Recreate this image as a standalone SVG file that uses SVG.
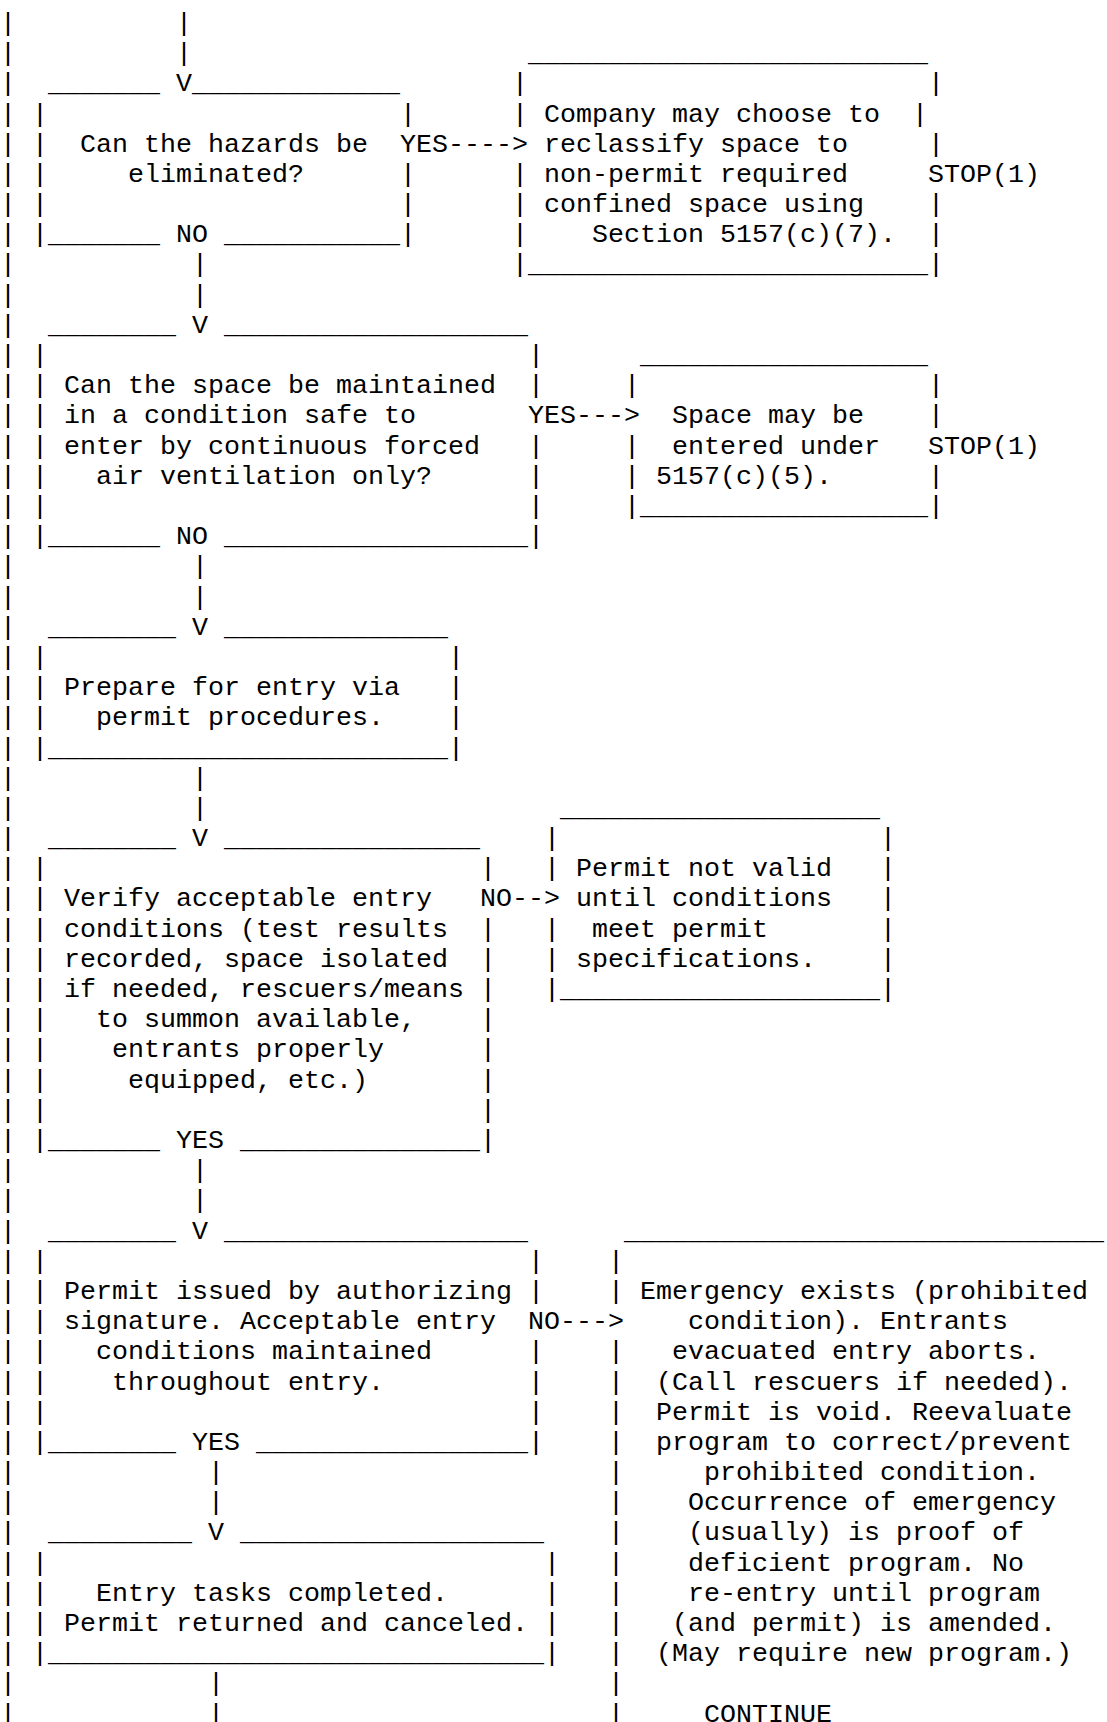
<svg xmlns="http://www.w3.org/2000/svg" width="1107" height="1722" viewBox="0 0 1107 1722">
<style>
.t{font-family:"Liberation Mono","Courier New",monospace;font-size:26.667px;fill:#000;white-space:pre}
</style>
<rect width="1107" height="1722" fill="#fff"/>
<g id="connectors" class="t">
<text class="t"><tspan x="0" y="30.9">|</tspan><tspan x="0" y="61.1">|</tspan><tspan x="0" y="91.3">|</tspan><tspan x="0" y="121.5">|</tspan><tspan x="0" y="151.7">|</tspan><tspan x="0" y="181.9">|</tspan><tspan x="0" y="212">|</tspan><tspan x="0" y="242.2">|</tspan><tspan x="0" y="272.4">|</tspan><tspan x="0" y="302.6">|</tspan><tspan x="0" y="332.8">|</tspan><tspan x="0" y="363">|</tspan><tspan x="0" y="393.2">|</tspan><tspan x="0" y="423.4">|</tspan><tspan x="0" y="453.6">|</tspan><tspan x="0" y="483.8">|</tspan><tspan x="0" y="513.9">|</tspan><tspan x="0" y="544.1">|</tspan><tspan x="0" y="574.3">|</tspan><tspan x="0" y="604.5">|</tspan><tspan x="0" y="634.7">|</tspan><tspan x="0" y="664.9">|</tspan><tspan x="0" y="695.1">|</tspan><tspan x="0" y="725.3">|</tspan><tspan x="0" y="755.5">|</tspan><tspan x="0" y="785.7">|</tspan><tspan x="0" y="815.8">|</tspan><tspan x="0" y="846">|</tspan><tspan x="0" y="876.2">|</tspan><tspan x="0" y="906.4">|</tspan><tspan x="0" y="936.6">|</tspan><tspan x="0" y="966.8">|</tspan><tspan x="0" y="997">|</tspan><tspan x="0" y="1027.2">|</tspan><tspan x="0" y="1057.4">|</tspan><tspan x="0" y="1087.6">|</tspan><tspan x="0" y="1117.7">|</tspan><tspan x="0" y="1147.9">|</tspan><tspan x="0" y="1178.1">|</tspan><tspan x="0" y="1208.3">|</tspan><tspan x="0" y="1238.5">|</tspan><tspan x="0" y="1268.7">|</tspan><tspan x="0" y="1298.9">|</tspan><tspan x="0" y="1329.1">|</tspan><tspan x="0" y="1359.3">|</tspan><tspan x="0" y="1389.5">|</tspan><tspan x="0" y="1419.6">|</tspan><tspan x="0" y="1449.8">|</tspan><tspan x="0" y="1480">|</tspan><tspan x="0" y="1510.2">|</tspan><tspan x="0" y="1540.4">|</tspan><tspan x="0" y="1570.6">|</tspan><tspan x="0" y="1600.8">|</tspan><tspan x="0" y="1631">|</tspan><tspan x="0" y="1661.2">|</tspan><tspan x="0" y="1691.4">|</tspan><tspan x="0" y="1721.5">|</tspan></text>
<text class="t"><tspan x="176" y="30.9">|</tspan><tspan x="176" y="61.1">|</tspan><tspan x="176" y="91.3">V</tspan></text>
<text class="t"><tspan x="176" y="242.2">NO</tspan><tspan x="192" y="272.4">|</tspan><tspan x="192" y="302.6">|</tspan><tspan x="192" y="332.8">V</tspan></text>
<text class="t" x="400" y="151.7">YES----&gt;</text>
<text class="t"><tspan x="176" y="544.1">NO</tspan><tspan x="192" y="574.3">|</tspan><tspan x="192" y="604.5">|</tspan><tspan x="192" y="634.7">V</tspan></text>
<text class="t" x="528" y="423.4">YES---&gt;</text>
<text class="t"><tspan x="192" y="785.7">|</tspan><tspan x="192" y="815.8">|</tspan><tspan x="192" y="846">V</tspan></text>
<text class="t" x="480" y="906.4">NO--&gt;</text>
<text class="t"><tspan x="176" y="1147.9">YES</tspan><tspan x="192" y="1178.1">|</tspan><tspan x="192" y="1208.3">|</tspan><tspan x="192" y="1238.5">V</tspan></text>
<text class="t" x="528" y="1329.1">NO---&gt;</text>
<text class="t"><tspan x="192" y="1449.8">YES</tspan><tspan x="208" y="1480">|</tspan><tspan x="208" y="1510.2">|</tspan><tspan x="208" y="1540.4">V</tspan></text>
<text class="t"><tspan x="208" y="1691.4">|</tspan><tspan x="208" y="1721.5">|</tspan></text>
</g>
<g id="n-hazards">
<text class="t" x="48" y="91.3">_______</text>
<text class="t" x="192" y="91.3">_____________</text>
<text class="t"><tspan x="32" y="121.5">|</tspan><tspan x="32" y="151.7">|</tspan><tspan x="32" y="181.9">|</tspan><tspan x="32" y="212">|</tspan><tspan x="32" y="242.2">|</tspan></text>
<text class="t"><tspan x="400" y="121.5">|</tspan><tspan x="400" y="181.9">|</tspan><tspan x="400" y="212">|</tspan><tspan x="400" y="242.2">|</tspan></text>
<text class="t" x="80" y="151.7">Can the hazards be</text>
<text class="t" x="128" y="181.9">eliminated?</text>
<text class="t" x="48" y="242.2">_______</text>
<text class="t" x="224" y="242.2">___________</text>
</g>
<g id="n-reclassify">
<text class="t" x="528" y="61.1">_________________________</text>
<text class="t"><tspan x="512" y="91.3">|</tspan><tspan x="512" y="121.5">|</tspan><tspan x="512" y="181.9">|</tspan><tspan x="512" y="212">|</tspan><tspan x="512" y="242.2">|</tspan><tspan x="512" y="272.4">|</tspan></text>
<text class="t"><tspan x="928" y="91.3">|</tspan><tspan x="912" y="121.5">|</tspan><tspan x="928" y="151.7">|</tspan><tspan x="928" y="212">|</tspan><tspan x="928" y="242.2">|</tspan><tspan x="928" y="272.4">|</tspan></text>
<text class="t" x="544" y="121.5">Company may choose to</text>
<text class="t" x="544" y="151.7">reclassify space to</text>
<text class="t" x="544" y="181.9">non-permit required</text>
<text class="t" x="544" y="212">confined space using</text>
<text class="t" x="592" y="242.2">Section 5157(c)(7).</text>
<text class="t" x="928" y="181.9">STOP(1)</text>
<text class="t" x="528" y="272.4">_________________________</text>
</g>
<g id="n-ventilation">
<text class="t" x="48" y="332.8">________</text>
<text class="t" x="224" y="332.8">___________________</text>
<text class="t"><tspan x="32" y="363">|</tspan><tspan x="32" y="393.2">|</tspan><tspan x="32" y="423.4">|</tspan><tspan x="32" y="453.6">|</tspan><tspan x="32" y="483.8">|</tspan><tspan x="32" y="513.9">|</tspan><tspan x="32" y="544.1">|</tspan></text>
<text class="t"><tspan x="528" y="363">|</tspan><tspan x="528" y="393.2">|</tspan><tspan x="528" y="453.6">|</tspan><tspan x="528" y="483.8">|</tspan><tspan x="528" y="513.9">|</tspan><tspan x="528" y="544.1">|</tspan></text>
<text class="t" x="64" y="393.2">Can the space be maintained</text>
<text class="t" x="64" y="423.4">in a condition safe to</text>
<text class="t" x="64" y="453.6">enter by continuous forced</text>
<text class="t" x="96" y="483.8">air ventilation only?</text>
<text class="t" x="48" y="544.1">_______</text>
<text class="t" x="224" y="544.1">___________________</text>
</g>
<g id="n-entered">
<text class="t" x="640" y="363">__________________</text>
<text class="t"><tspan x="624" y="393.2">|</tspan><tspan x="624" y="453.6">|</tspan><tspan x="624" y="483.8">|</tspan><tspan x="624" y="513.9">|</tspan></text>
<text class="t"><tspan x="928" y="393.2">|</tspan><tspan x="928" y="423.4">|</tspan><tspan x="928" y="483.8">|</tspan><tspan x="928" y="513.9">|</tspan></text>
<text class="t" x="672" y="423.4">Space may be</text>
<text class="t" x="672" y="453.6">entered under</text>
<text class="t" x="656" y="483.8">5157(c)(5).</text>
<text class="t" x="928" y="453.6">STOP(1)</text>
<text class="t" x="640" y="513.9">__________________</text>
</g>
<g id="n-prepare">
<text class="t" x="48" y="634.7">________</text>
<text class="t" x="224" y="634.7">______________</text>
<text class="t"><tspan x="32" y="664.9">|</tspan><tspan x="32" y="695.1">|</tspan><tspan x="32" y="725.3">|</tspan><tspan x="32" y="755.5">|</tspan></text>
<text class="t"><tspan x="448" y="664.9">|</tspan><tspan x="448" y="695.1">|</tspan><tspan x="448" y="725.3">|</tspan><tspan x="448" y="755.5">|</tspan></text>
<text class="t" x="64" y="695.1">Prepare for entry via</text>
<text class="t" x="96" y="725.3">permit procedures.</text>
<text class="t" x="48" y="755.5">_________________________</text>
</g>
<g id="n-verify">
<text class="t" x="48" y="846">________</text>
<text class="t" x="224" y="846">________________</text>
<text class="t"><tspan x="32" y="876.2">|</tspan><tspan x="32" y="906.4">|</tspan><tspan x="32" y="936.6">|</tspan><tspan x="32" y="966.8">|</tspan><tspan x="32" y="997">|</tspan><tspan x="32" y="1027.2">|</tspan><tspan x="32" y="1057.4">|</tspan><tspan x="32" y="1087.6">|</tspan><tspan x="32" y="1117.7">|</tspan><tspan x="32" y="1147.9">|</tspan></text>
<text class="t"><tspan x="480" y="876.2">|</tspan><tspan x="480" y="936.6">|</tspan><tspan x="480" y="966.8">|</tspan><tspan x="480" y="997">|</tspan><tspan x="480" y="1027.2">|</tspan><tspan x="480" y="1057.4">|</tspan><tspan x="480" y="1087.6">|</tspan><tspan x="480" y="1117.7">|</tspan><tspan x="480" y="1147.9">|</tspan></text>
<text class="t" x="64" y="906.4">Verify acceptable entry</text>
<text class="t" x="64" y="936.6">conditions (test results</text>
<text class="t" x="64" y="966.8">recorded, space isolated</text>
<text class="t" x="64" y="997">if needed, rescuers/means</text>
<text class="t" x="96" y="1027.2">to summon available,</text>
<text class="t" x="112" y="1057.4">entrants properly</text>
<text class="t" x="128" y="1087.6">equipped, etc.)</text>
<text class="t" x="48" y="1147.9">_______</text>
<text class="t" x="240" y="1147.9">_______________</text>
</g>
<g id="n-not-valid">
<text class="t" x="560" y="815.8">____________________</text>
<text class="t"><tspan x="544" y="846">|</tspan><tspan x="544" y="876.2">|</tspan><tspan x="544" y="936.6">|</tspan><tspan x="544" y="966.8">|</tspan><tspan x="544" y="997">|</tspan></text>
<text class="t"><tspan x="880" y="846">|</tspan><tspan x="880" y="876.2">|</tspan><tspan x="880" y="906.4">|</tspan><tspan x="880" y="936.6">|</tspan><tspan x="880" y="966.8">|</tspan><tspan x="880" y="997">|</tspan></text>
<text class="t" x="576" y="876.2">Permit not valid</text>
<text class="t" x="576" y="906.4">until conditions</text>
<text class="t" x="592" y="936.6">meet permit</text>
<text class="t" x="576" y="966.8">specifications.</text>
<text class="t" x="560" y="997">____________________</text>
</g>
<g id="n-issued">
<text class="t" x="48" y="1238.5">________</text>
<text class="t" x="224" y="1238.5">___________________</text>
<text class="t"><tspan x="32" y="1268.7">|</tspan><tspan x="32" y="1298.9">|</tspan><tspan x="32" y="1329.1">|</tspan><tspan x="32" y="1359.3">|</tspan><tspan x="32" y="1389.5">|</tspan><tspan x="32" y="1419.6">|</tspan><tspan x="32" y="1449.8">|</tspan></text>
<text class="t"><tspan x="528" y="1268.7">|</tspan><tspan x="528" y="1298.9">|</tspan><tspan x="528" y="1359.3">|</tspan><tspan x="528" y="1389.5">|</tspan><tspan x="528" y="1419.6">|</tspan><tspan x="528" y="1449.8">|</tspan></text>
<text class="t" x="64" y="1298.9">Permit issued by authorizing</text>
<text class="t" x="64" y="1329.1">signature. Acceptable entry</text>
<text class="t" x="96" y="1359.3">conditions maintained</text>
<text class="t" x="112" y="1389.5">throughout entry.</text>
<text class="t" x="48" y="1449.8">________</text>
<text class="t" x="256" y="1449.8">_________________</text>
</g>
<g id="n-emergency">
<text class="t" x="624" y="1238.5">______________________________</text>
<text class="t"><tspan x="608" y="1268.7">|</tspan><tspan x="608" y="1298.9">|</tspan><tspan x="608" y="1359.3">|</tspan><tspan x="608" y="1389.5">|</tspan><tspan x="608" y="1419.6">|</tspan><tspan x="608" y="1449.8">|</tspan><tspan x="608" y="1480">|</tspan><tspan x="608" y="1510.2">|</tspan><tspan x="608" y="1540.4">|</tspan><tspan x="608" y="1570.6">|</tspan><tspan x="608" y="1600.8">|</tspan><tspan x="608" y="1631">|</tspan><tspan x="608" y="1661.2">|</tspan><tspan x="608" y="1691.4">|</tspan><tspan x="608" y="1721.5">|</tspan></text>
<text class="t" x="640" y="1298.9">Emergency exists (prohibited</text>
<text class="t" x="688" y="1329.1">condition). Entrants</text>
<text class="t" x="672" y="1359.3">evacuated entry aborts.</text>
<text class="t" x="656" y="1389.5">(Call rescuers if needed).</text>
<text class="t" x="656" y="1419.6">Permit is void. Reevaluate</text>
<text class="t" x="656" y="1449.8">program to correct/prevent</text>
<text class="t" x="704" y="1480">prohibited condition.</text>
<text class="t" x="688" y="1510.2">Occurrence of emergency</text>
<text class="t" x="688" y="1540.4">(usually) is proof of</text>
<text class="t" x="688" y="1570.6">deficient program. No</text>
<text class="t" x="688" y="1600.8">re-entry until program</text>
<text class="t" x="672" y="1631">(and permit) is amended.</text>
<text class="t" x="656" y="1661.2">(May require new program.)</text>
</g>
<g id="n-continue">
<text class="t" x="704" y="1721.5">CONTINUE</text>
</g>
<g id="n-completed">
<text class="t" x="48" y="1540.4">_________</text>
<text class="t" x="240" y="1540.4">___________________</text>
<text class="t"><tspan x="32" y="1570.6">|</tspan><tspan x="32" y="1600.8">|</tspan><tspan x="32" y="1631">|</tspan><tspan x="32" y="1661.2">|</tspan></text>
<text class="t"><tspan x="544" y="1570.6">|</tspan><tspan x="544" y="1600.8">|</tspan><tspan x="544" y="1631">|</tspan><tspan x="544" y="1661.2">|</tspan></text>
<text class="t" x="96" y="1600.8">Entry tasks completed.</text>
<text class="t" x="64" y="1631">Permit returned and canceled.</text>
<text class="t" x="48" y="1661.2">_______________________________</text>
</g>
</svg>
